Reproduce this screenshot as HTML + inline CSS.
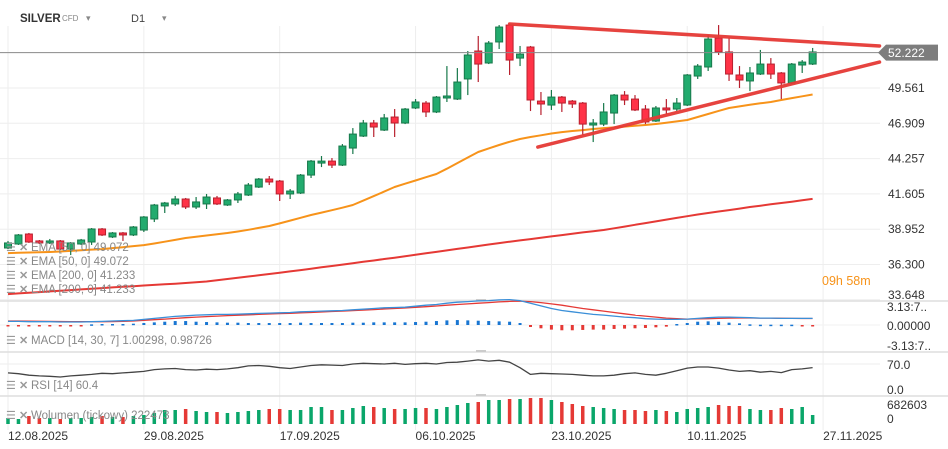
<!DOCTYPE html>
<html><head><meta charset="utf-8">
<style>
html,body{margin:0;padding:0;background:#fff;width:948px;height:449px;overflow:hidden;font-family:"Liberation Sans",sans-serif;}
svg{display:block}
</style></head>
<body>
<svg id="chart" width="948" height="449" viewBox="0 0 948 449" xmlns="http://www.w3.org/2000/svg">
  <g id="grid"></g>
  <g id="marks"></g>
  <g id="labels"></g>
  <g>
    <text x="20" y="22" font-size="11.5" font-weight="bold" fill="#333">SILVER</text>
    <text x="62" y="21" font-size="8" fill="#888">CFD</text>
    <text x="86" y="21" font-size="9" fill="#888">▾</text>
    <text x="131" y="22" font-size="11" fill="#444">D1</text>
    <text x="162" y="21" font-size="9" fill="#888">▾</text>
  </g>
</svg>
<script>
const open_=[37.54,37.84,38.59,38.07,37.92,38.07,37.46,37.84,37.99,38.97,38.37,38.67,38.52,38.89,39.72,40.70,40.85,41.22,40.62,40.85,41.30,40.77,41.15,41.52,42.12,42.72,42.57,41.60,41.67,43.02,43.92,44.07,43.77,45.05,45.95,46.93,46.40,47.38,46.93,48.06,48.43,47.76,48.81,48.73,50.24,52.34,51.44,53.02,54.29,51.81,52.64,48.58,48.28,48.88,48.58,48.43,46.78,46.85,47.68,49.03,48.73,47.98,47.08,48.06,47.98,48.28,50.46,51.14,53.32,52.27,50.54,50.09,50.61,51.36,50.69,49.94,51.29,51.36];
const close_=[37.92,38.52,37.99,37.92,38.07,37.46,37.92,38.14,38.97,38.52,38.67,38.52,39.12,39.87,40.77,40.92,41.22,40.62,41.00,41.37,40.85,41.15,41.60,42.27,42.72,42.50,41.60,41.82,43.02,44.07,44.07,43.77,45.20,46.10,46.93,46.63,47.31,46.93,47.98,48.51,47.76,48.88,48.96,50.01,52.04,51.36,52.94,54.14,51.66,52.11,48.66,48.36,48.88,48.43,48.36,46.85,46.93,47.76,49.03,48.66,47.91,47.01,48.06,47.91,48.43,50.54,51.21,53.24,52.27,50.61,50.16,50.69,51.36,50.61,49.94,51.36,51.51,52.27];
const high_=[38.07,38.59,38.67,38.14,38.22,38.14,37.99,38.22,39.04,39.04,38.74,38.74,39.19,39.94,40.85,41.00,41.45,41.30,41.37,41.60,41.45,41.22,41.75,42.42,42.80,42.95,42.65,41.97,43.10,44.15,44.45,44.30,45.35,46.55,47.16,47.16,47.61,47.98,48.06,48.73,48.58,48.96,51.21,51.06,52.34,53.47,53.09,54.29,54.37,52.72,52.72,49.26,49.41,48.96,48.66,48.51,47.23,48.43,49.11,49.33,49.03,48.28,48.21,48.73,48.81,50.61,51.36,53.54,54.29,53.32,51.21,51.14,52.42,51.81,50.76,51.44,51.66,52.57];
const low_=[37.46,37.77,37.92,37.84,37.84,37.39,37.01,37.77,37.77,38.44,38.29,38.07,38.44,38.74,39.49,40.17,40.70,40.47,40.47,40.47,40.77,40.70,40.92,41.45,42.05,42.27,41.07,41.22,41.60,42.80,43.62,43.55,43.70,44.60,45.88,45.88,46.33,45.88,46.85,47.98,47.38,47.68,48.51,48.66,49.03,50.01,51.36,52.49,50.54,51.21,47.83,47.53,47.91,47.76,48.06,46.03,45.50,46.70,46.85,48.28,47.83,46.85,47.01,47.61,47.83,48.21,50.24,50.84,52.04,50.09,49.56,49.33,50.54,50.24,48.73,49.86,50.69,51.29];
const ema50=[37.16,37.18,37.20,37.22,37.24,37.28,37.32,37.37,37.42,37.46,37.53,37.60,37.68,37.76,37.88,38.01,38.15,38.29,38.38,38.48,38.58,38.67,38.78,38.91,39.05,39.19,39.39,39.60,39.81,40.02,40.20,40.38,40.57,40.77,41.10,41.44,41.78,42.12,42.37,42.61,42.86,43.10,43.50,43.92,44.34,44.75,45.02,45.28,45.52,45.73,45.88,46.01,46.14,46.25,46.33,46.40,46.48,46.55,46.60,46.66,46.72,46.78,46.86,46.95,47.05,47.16,47.38,47.61,47.84,48.06,48.18,48.30,48.41,48.51,48.66,48.80,48.94,49.07];
const ema200=[34.08,34.13,34.18,34.23,34.28,34.33,34.38,34.43,34.48,34.53,34.58,34.63,34.67,34.72,34.77,34.81,34.86,34.91,34.96,35.02,35.11,35.21,35.30,35.40,35.49,35.59,35.68,35.78,35.88,35.98,36.09,36.19,36.29,36.40,36.50,36.60,36.71,36.81,36.92,37.03,37.14,37.25,37.36,37.47,37.58,37.69,37.80,37.91,38.01,38.11,38.21,38.31,38.41,38.51,38.61,38.71,38.80,38.89,39.02,39.15,39.28,39.41,39.54,39.67,39.80,39.93,40.06,40.17,40.28,40.39,40.50,40.62,40.72,40.82,40.92,41.02,41.12,41.23];
const macdLine=[0.55,0.55,0.5,0.5,0.5,0.45,0.45,0.45,0.5,0.55,0.6,0.65,0.7,0.85,1.0,1.15,1.3,1.4,1.5,1.55,1.6,1.6,1.65,1.7,1.75,1.8,1.85,1.9,2.0,2.05,2.1,2.15,2.2,2.3,2.4,2.5,2.6,2.65,2.7,2.85,3.0,3.1,3.3,3.45,3.55,3.65,3.7,3.8,3.85,3.7,3.3,2.9,2.5,2.2,2.0,1.8,1.6,1.5,1.35,1.2,1.1,0.95,0.9,0.85,0.85,0.9,1.0,1.1,1.2,1.2,1.15,1.1,1.05,1.05,1.0,1.0,1.0,1.0];
const signalLine=[0.6,0.6,0.58,0.56,0.55,0.53,0.5,0.5,0.5,0.5,0.52,0.55,0.6,0.7,0.8,0.9,1.0,1.1,1.2,1.28,1.35,1.42,1.48,1.54,1.6,1.66,1.72,1.78,1.84,1.9,1.97,2.04,2.1,2.18,2.26,2.34,2.42,2.5,2.58,2.68,2.78,2.88,3.0,3.1,3.2,3.3,3.4,3.5,3.58,3.62,3.55,3.4,3.2,3.0,2.75,2.5,2.3,2.1,1.9,1.7,1.5,1.35,1.2,1.05,0.95,0.9,0.92,0.96,1.0,1.04,1.06,1.06,1.05,1.04,1.02,1.0,0.99,0.99];
const macdHist=[-0.05,-0.05,-0.08,-0.06,-0.05,-0.08,-0.05,-0.05,0.1,0.15,0.15,0.15,0.2,0.3,0.4,0.5,0.6,0.6,0.5,0.45,0.4,0.35,0.35,0.3,0.3,0.3,0.3,0.3,0.35,0.3,0.3,0.3,0.3,0.35,0.35,0.4,0.4,0.4,0.4,0.45,0.5,0.6,0.7,0.75,0.7,0.65,0.6,0.55,0.5,0.3,-0.3,-0.5,-0.7,-0.8,-0.8,-0.75,-0.7,-0.7,-0.6,-0.55,-0.5,-0.45,-0.35,-0.25,0.15,0.3,0.5,0.55,0.5,0.35,0.25,0.1,0.05,0.05,0.05,0.05,-0.05,-0.05];
const rsi=[46,44,40,38,37,35,38,40,42,45,44,46,48,50,55,57,58,55,54,56,55,57,60,65,66,64,60,58,62,66,68,67,66,70,72,71,70,72,69,71,72,70,74,75,78,81,78,80,75,60,42,45,44,43,42,40,38,38,40,44,46,42,40,45,52,59,62,62,59,54,50,52,48,50,47,55,57,60.4];
const volume=[258,215,344,258,258,215,258,258,301,344,301,301,344,387,473,602,602,645,559,516,516,473,516,559,602,645,645,602,602,731,731,602,602,688,774,731,688,645,645,688,688,645,731,817,903,946,1032,1032,1075,1075,1118,1118,1032,946,860,774,731,688,645,602,602,559,602,559,516,645,688,731,817,774,774,645,602,602,688,645,731,387];
const priceTicks=[49.561,46.909,44.257,41.605,38.952,36.300,33.648];
const dateLabels=["12.08.2025","29.08.2025","17.09.2025","06.10.2025","23.10.2025","10.11.2025","27.11.2025"];
const dateIdx=[0,13,26,39,52,65,78];
const trendUpper=[[48,54.37],[83.4,52.72]];
const trendLower=[[50.7,45.12],[83.4,51.51]];
const lastPrice=52.222;

const NS="http://www.w3.org/2000/svg";
function mk(tag,attrs,parent,txt){const e=document.createElementNS(NS,tag);for(const k in attrs)e.setAttribute(k,attrs[k]);if(txt!==undefined)e.textContent=txt;parent.appendChild(e);return e;}
const xI=i=>8+10.45*i;
const yP=p=>88+(49.561-p)*13.31;
const yM=v=>325-v*6.6;
const yR=v=>390-v*0.371;
const yV=v=>424-v/43;
const G=document.getElementById('grid'),M=document.getElementById('marks'),L=document.getElementById('labels');

dateIdx.forEach((d,k)=>{
  const l=mk('line',{x1:xI(d),x2:xI(d),y1:26,y2:430,stroke:'#eeeeee','stroke-width':1},G);
  
  
  const t=mk('text',{x:xI(d),y:440,'font-size':12,fill:'#333'},L,dateLabels[k]);
  
  
});
priceTicks.forEach(p=>{
  const l=mk('line',{x1:0,x2:880,y1:yP(p),y2:yP(p),stroke:'#eeeeee','stroke-width':1},G);
  
  
  const ty=Math.min(yP(p)+4,299);
  const t=mk('text',{x:888,y:ty,'font-size':12,fill:'#333'},L,p.toFixed(3));
  
  
});
[301,352,396].forEach(y=>{
  const l=mk('line',{x1:0,x2:948,y1:y,y2:y,stroke:'#dddddd','stroke-width':1.5},G);
  
  
  const h=mk('rect',{x:476,y:y-2,width:10,height:2,fill:'#ccc'},G);
  
  
});
[[yM(0),'#f2f2f2'],[yR(70),'#eeeeee']].forEach(([y,c])=>{
  const l=mk('line',{x1:0,x2:880,y1:y,y2:y,stroke:c},G);
  
  
});

function poly(arr,fy,color,w,name){
  const pts=arr.map((v,i)=>xI(i).toFixed(1)+','+fy(v).toFixed(1)).join(' ');
  const e=mk('polyline',{points:pts,fill:'none',stroke:color,'stroke-width':w,'stroke-linejoin':'round'},M);
  
  
}
poly(ema200,yP,'#e53935',2,'ema-200-line');
poly(ema50,yP,'#f7931a',2,'ema-50-line');

for(let i=0;i<open_.length;i++){
  const up=close_[i]>=open_[i];
  const x=xI(i);
  const fill=up?'#22ab6e':'#ff3347', st=up?'#17784a':'#b8202e';
  const g=mk('g',{},M);
  
  
  mk('line',{x1:x,x2:x,y1:yP(high_[i]),y2:yP(low_[i]),stroke:st,'stroke-width':1.2},g);
  const top=yP(Math.max(open_[i],close_[i])),bot=yP(Math.min(open_[i],close_[i]));
  mk('rect',{x:x-3.5,y:top,width:7,height:Math.max(1.5,bot-top),fill:fill,stroke:st,'stroke-width':1},g);
}
[[trendUpper,'upper-trendline'],[trendLower,'lower-trendline']].forEach(([t,n])=>{
  const l=mk('line',{x1:xI(t[0][0]),y1:yP(t[0][1]),x2:xI(t[1][0]),y2:yP(t[1][1]),stroke:'#e53935','stroke-width':3.5,'stroke-linecap':'round','stroke-opacity':0.95},M);
  
  
});
const lp=mk('line',{x1:0,x2:880,y1:yP(lastPrice),y2:yP(lastPrice),stroke:'#8a8a8a','stroke-width':1},M);


const lb=mk('path',{d:`M878 ${yP(lastPrice)} L886 ${yP(lastPrice)-8} L938 ${yP(lastPrice)-8} L938 ${yP(lastPrice)+8} L886 ${yP(lastPrice)+8} Z`,fill:'#7d7d7d'},L);


const lt=mk('text',{x:888,y:yP(lastPrice)+4.5,'font-size':12,fill:'#fff'},L,lastPrice.toFixed(3));


const cd=mk('text',{x:822,y:285,'font-size':12.5,fill:'#f7931a'},L,'09h 58m');



for(let i=0;i<macdHist.length;i++){
  const v=macdHist[i],y0=yM(0),y1=yM(v);
  const r=mk('rect',{x:xI(i)-1.5,y:Math.min(y0,y1),width:3,height:Math.max(1.5,Math.abs(y1-y0)),fill:v>=0?'#1976d2':'#e53935'},M);
  
  
}
poly(signalLine,yM,'#e53935',1.3,'macd-signal-line');
poly(macdLine,yM,'#3a8fd8',1.3,'macd-line');
[['3.13:7..',311],['0.00000',330],['-3.13:7..',350]].forEach(([s,y])=>{
  const t=mk('text',{x:887,y:y,'font-size':12,fill:'#333'},L,s);
  
  
});
poly(rsi,yR,'#444',1.3,'rsi-line');
[['70.0',369],['0.0',394]].forEach(([s,y])=>{
  const t=mk('text',{x:887,y:y,'font-size':12,fill:'#333'},L,s);
  
  
});
for(let i=0;i<volume.length;i++){
  const up=close_[i]>=open_[i];
  const r=mk('rect',{x:xI(i)-1.75,y:yV(volume[i]),width:3.5,height:424-yV(volume[i]),fill:up?'#0aa66a':'#e53935'},M);
  
  
}
[['682603',409],['0',423]].forEach(([s,y])=>{
  const t=mk('text',{x:887,y:y,'font-size':12,fill:'#333'},L,s);
  
  
});
[['EMA [50, 0] 49.072',251],['EMA [50, 0] 49.072',265],['EMA [200, 0] 41.233',279],['EMA [200, 0] 41.233',293],['MACD [14, 30, 7] 1.00298, 0.98726',344],['RSI [14] 60.4',389],['Wolumen (tickowy) 222473',419]].forEach(([s,y])=>{
  const g=mk('g',{},L);
  
  
  mk('text',{x:6,y:y,'font-size':11,fill:'#999'},g,'☰');
  mk('text',{x:19,y:y,'font-size':11,fill:'#999','font-weight':'bold'},g,'✕');
  mk('text',{x:31,y:y,'font-size':11.5,fill:'#888'},g,s);
});
</script>
</body></html>
